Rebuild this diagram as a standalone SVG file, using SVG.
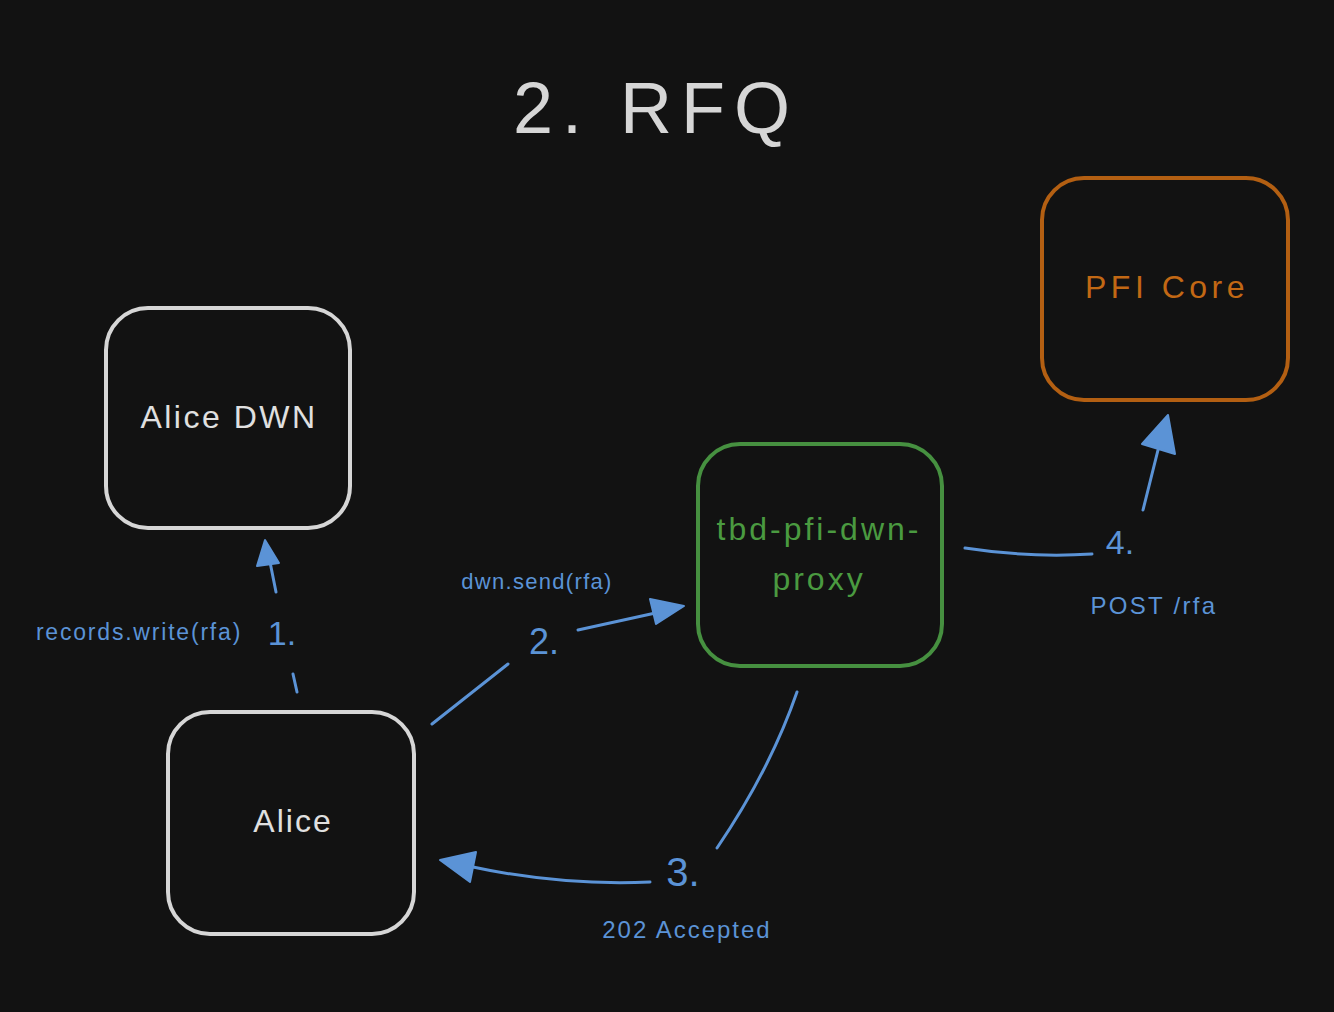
<svg xmlns="http://www.w3.org/2000/svg" width="1334" height="1012" viewBox="0 0 1334 1012">
<defs>
<style>
.box{fill:none;stroke-width:4;stroke-linejoin:round}
.lbl{font-family:"Liberation Sans","DejaVu Sans",sans-serif}
.conn{fill:none;stroke:#5b93d6;stroke-width:3;stroke-linecap:round}
.head{fill:#5b93d6;stroke:#5b93d6;stroke-width:2;stroke-linejoin:round}
.blue{fill:#5b93d6}
</style>
</defs>
<rect width="1334" height="1012" fill="#121212"/>
<text class="lbl" x="656" y="133" font-size="72" text-anchor="middle" fill="#d6d6d6" letter-spacing="9">2. RFQ</text>

<g id="alice-dwn">
<rect class="box" x="106" y="308" width="244" height="220" rx="42" stroke="#d6d6d6"/>
<text class="lbl" x="229" y="428" font-size="32" text-anchor="middle" fill="#e0e0e0" letter-spacing="2.5">Alice DWN</text>
</g>
<g id="alice">
<rect class="box" x="168" y="712" width="246" height="222" rx="42" stroke="#d6d6d6"/>
<text class="lbl" x="293" y="832" font-size="32" text-anchor="middle" fill="#e0e0e0" letter-spacing="2">Alice</text>
</g>
<g id="proxy">
<rect class="box" x="698" y="444" width="244" height="222" rx="42" stroke="#469040"/>
<text class="lbl" x="819" y="540" font-size="32" text-anchor="middle" fill="#4a9a40" letter-spacing="3">tbd-pfi-dwn-</text>
<text class="lbl" x="819" y="590" font-size="32" text-anchor="middle" fill="#4a9a40" letter-spacing="3">proxy</text>
</g>
<g id="pfi-core">
<rect class="box" x="1042" y="178" width="246" height="222" rx="42" stroke="#b35f12"/>
<text class="lbl" x="1167" y="298" font-size="32" text-anchor="middle" fill="#c26814" letter-spacing="4.5">PFI Core</text>
</g>

<g id="connectors">
<path class="conn" d="M297 692 L293 674"/>
<path class="conn" d="M276 592 L270 562"/>
<path class="head" d="M265 540 L257 566 L279 563 Z"/>
<text class="lbl blue" x="282" y="645" font-size="34" text-anchor="middle">1.</text>
<text class="lbl blue" x="139" y="640" font-size="23" text-anchor="middle" letter-spacing="1.8">records.write(rfa)</text>

<path class="conn" d="M432 724 L508 664"/>
<path class="conn" d="M578 630 L660 612"/>
<path class="head" d="M684 606 L650 599 L656 624 Z"/>
<text class="lbl blue" x="544" y="654" font-size="36" text-anchor="middle">2.</text>
<text class="lbl blue" x="537" y="589" font-size="22" text-anchor="middle" letter-spacing="1.3">dwn.send(rfa)</text>

<path class="conn" d="M797 692 Q770 770 717 848"/>
<path class="conn" d="M650 882 Q560 886 468 866"/>
<path class="head" d="M440 860 L476 852 L470 882 Z"/>
<text class="lbl blue" x="683" y="886" font-size="40" text-anchor="middle">3.</text>
<text class="lbl blue" x="687" y="938" font-size="24" text-anchor="middle" letter-spacing="2">202 Accepted</text>

<path class="conn" d="M965 548 Q1030 558 1092 554"/>
<path class="conn" d="M1143 510 L1158 450"/>
<path class="head" d="M1168 415 L1142 444 L1175 454 Z"/>
<text class="lbl blue" x="1120" y="554" font-size="34" text-anchor="middle">4.</text>
<text class="lbl blue" x="1154" y="614" font-size="24" text-anchor="middle" letter-spacing="2.3">POST /rfa</text>
</g>
</svg>
